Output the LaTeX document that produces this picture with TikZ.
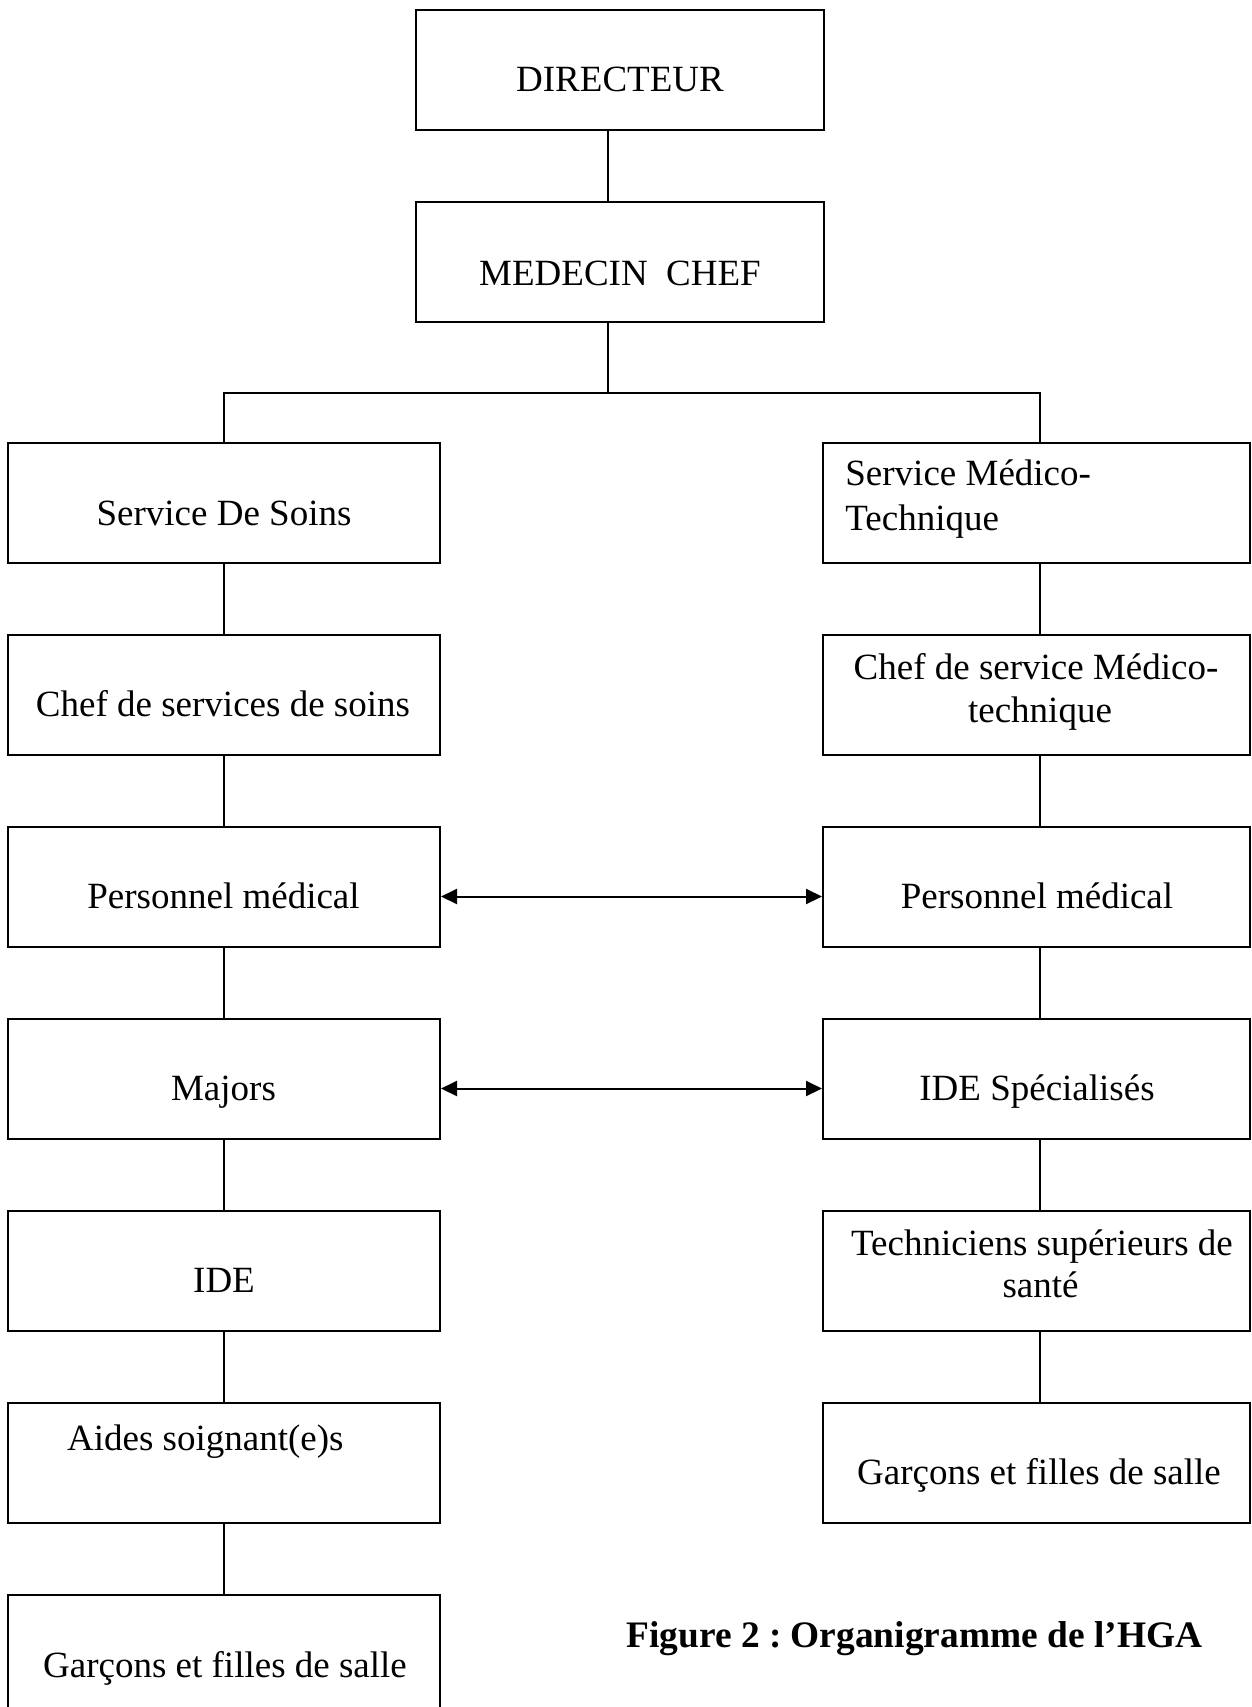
\documentclass[tikz,border=0pt]{standalone}
\usepackage{fontspec}
\setmainfont{Liberation Serif}
\usetikzlibrary{arrows.meta}
\frenchspacing
\begin{document}
\begin{tikzpicture}[x=0.5pt,y=-0.5pt,
  box/.style={draw,line width=1pt,inner sep=0pt,minimum height=60pt},
  topbox/.style={box,minimum width=204pt},
  lbox/.style={box,minimum width=216pt},
  rbox/.style={box,minimum width=213.5pt},
  lbl/.style={inner sep=0pt,anchor=base,font=\fontsize{18.5pt}{21.5pt}\selectfont},
  lbll/.style={lbl,anchor=base west},
  conn/.style={line width=1pt},
  dbl/.style={line width=1pt,{Triangle[length=8pt,width=7.5pt]}-{Triangle[length=8pt,width=7.5pt]}}]
\clip (0,0) rectangle (1252,1707);
\fill[white] (0,0) rectangle (1252,1707);
% top boxes
\node[topbox] (d) at (620,70) {};
\node[topbox] (m) at (620,262) {};
\node[lbl] (td) at (620,92) {DIRECTEUR};
\node[lbl] (tm) at (620,285) {MEDECIN~~CHEF};
% left column
\node[lbox] (l1) at (224,502.5) {};
\node[lbox] (l2) at (224,694.5) {};
\node[lbox] (l3) at (224,886.5) {};
\node[lbox] (l4) at (224,1078.5) {};
\node[lbox] (l5) at (224,1270.5) {};
\node[lbox] (l6) at (224,1462.5) {};
\node[lbox] (l7) at (224,1654.5) {};
\node[lbl] (tl1) at (224,525) {Service De Soins};
\node[lbl] (tl2) at (223,716.7) {Chef de services de soins};
\node[lbl] (tl3) at (223.5,908.3) {Personnel médical};
\node[lbl] (tl4) at (223.5,1100.7) {Majors};
\node[lbl] (tl5) at (224,1292.5) {IDE};
\node[lbll] (tl6) at (66.7,1450) {Aides soignant(e)s};
\node[lbl] (tl7) at (225,1677) {Garçons et filles de salle};
% right column
\node[rbox] (r1) at (1036.5,502.5) {};
\node[rbox] (r2) at (1036.5,694.5) {};
\node[rbox] (r3) at (1036.5,886.5) {};
\node[rbox] (r4) at (1036.5,1078.5) {};
\node[rbox] (r5) at (1036.5,1270.5) {};
\node[rbox] (r6) at (1036.5,1462.5) {};
\node[lbll] (tr1a) at (845,485) {Service Médico-};
\node[lbll] (tr1b) at (845,530.7) {Technique};
\node[lbl] (tr2a) at (1036,679) {Chef de service Médico-};
\node[lbl] (tr2b) at (1040,722.7) {technique};
\node[lbl] (tr3) at (1037,908.3) {Personnel médical};
\node[lbl] (tr4) at (1037,1100.7) {IDE Spécialisés};
\node[lbl] (tr5a) at (1042,1255.7) {Techniciens supérieurs de};
\node[lbl] (tr5b) at (1040.5,1297.7) {santé};
\node[lbl] (tr6) at (1039,1484) {Garçons et filles de salle};
% caption
\node[inner sep=0pt,anchor=base west,font=\fontsize{18.7pt}{21.5pt}\selectfont\bfseries] (cap) at (626,1647) {Figure 2 : Organigramme de l’HGA};
% junctions
\coordinate (jm) at (608,392.5);
\coordinate (jl) at (224,392.5);
\coordinate (jr) at (1040,392.5);
% connectors
\draw[conn] (d.south -| jm) -- (m.north -| jm);
\draw[conn] (m.south -| jm) -- (jm);
\draw[conn] (l1.north) -- (jl) -- (jr) -- (r1.north -| jr);
\draw[conn] (l1.south) -- (l2.north);
\draw[conn] (l2.south) -- (l3.north);
\draw[conn] (l3.south) -- (l4.north);
\draw[conn] (l4.south) -- (l5.north);
\draw[conn] (l5.south) -- (l6.north);
\draw[conn] (l6.south) -- (l7.north);
\draw[conn] (r1.south -| jr) -- (r2.north -| jr);
\draw[conn] (r2.south -| jr) -- (r3.north -| jr);
\draw[conn] (r3.south -| jr) -- (r4.north -| jr);
\draw[conn] (r4.south -| jr) -- (r5.north -| jr);
\draw[conn] (r5.south -| jr) -- (r6.north -| jr);
% arrows
\draw[dbl] ([yshift=-5pt]l3.east) -- ([yshift=-5pt]r3.west);
\draw[dbl] ([yshift=-5pt]l4.east) -- ([yshift=-5pt]r4.west);
\end{tikzpicture}
\end{document}
